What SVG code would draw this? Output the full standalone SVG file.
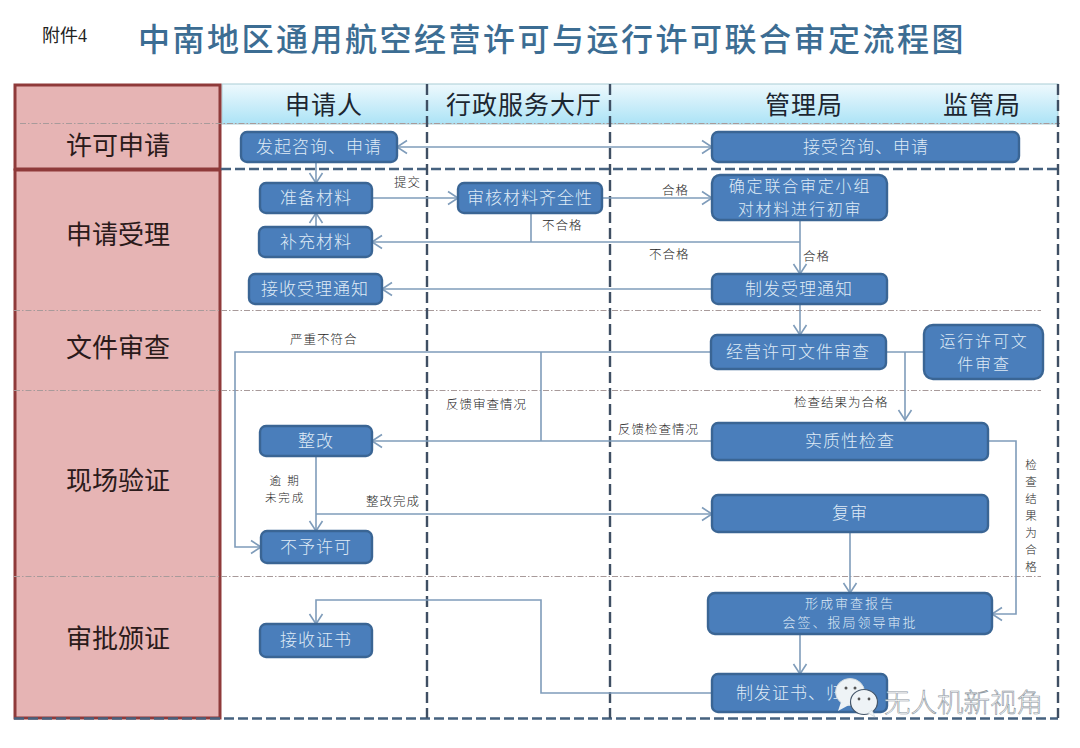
<svg xmlns="http://www.w3.org/2000/svg" width="1080" height="748" viewBox="0 0 1080 748">
<style>
text{font-family:"Noto Sans CJK SC","Noto Sans",sans-serif;dominant-baseline:central;transform:translateY(-1.5px)}
.n rect{fill:#4a7ebb;stroke:#3a6594;stroke-width:2.4}
.n text{fill:#dfeaf6;font-size:17px;text-anchor:middle;letter-spacing:1px;font-weight:300}
.n text.t2{font-size:16px;letter-spacing:1.800px}
.n text.t3{font-size:13px;letter-spacing:2px}
.c path{fill:none;stroke:#7f9cba;stroke-width:1.6}
.a{marker-end:url(#arr)}
.l{fill:#262626;font-size:12.500px;font-weight:300;letter-spacing:1px}
.s{fill:#262626;font-size:11.500px;font-weight:300;letter-spacing:1.800px;text-anchor:middle}
.lane{fill:#2b1a1a;font-size:26px;text-anchor:middle;font-weight:400}
.head{fill:#1c2630;font-size:25px;text-anchor:middle;letter-spacing:1px;font-weight:400}
.row{stroke:#a89a9a;stroke-width:1;stroke-dasharray:6 2 1.500 2;fill:none}
.vd{stroke:#3f4f63;stroke-width:2.400;stroke-dasharray:11 5;fill:none}
.hd{stroke:#46627f;stroke-width:2.600;stroke-dasharray:10 4;fill:none}
</style>
<defs>
<linearGradient id="hg" x1="0" y1="0" x2="0" y2="1"><stop offset="0" stop-color="#eef9fd"/><stop offset="1" stop-color="#ace3f6"/></linearGradient>
<marker id="arr" markerUnits="userSpaceOnUse" markerWidth="14" markerHeight="16" refX="12" refY="8" orient="auto-start-reverse"><path d="M2 1.500L12 8L2 14.500" fill="none" stroke="#7f9cba" stroke-width="1.600"/></marker>
</defs>
<rect width="1080" height="748" fill="#fff"/>
<text x="42" y="37" font-size="18" style="font-family:'Liberation Serif','Noto Sans CJK SC',serif" fill="#222">附件4</text>
<text x="138" y="38" font-size="32" letter-spacing="2.500" font-weight="500" fill="#3c6d93">中南地区通用航空经营许可与运行许可联合审定流程图</text>

<g id="lanes">
<rect x="222" y="84" width="836" height="40" fill="url(#hg)" stroke="#a9cdd6"/>
<rect x="15" y="85" width="205" height="84" fill="#e6b4b4" stroke="#8f3a3a" stroke-width="3"/>
<rect x="15" y="170" width="205" height="548" fill="#e6b4b4" stroke="#8f3a3a" stroke-width="3"/>
<path class="row" d="M20 123.500H1060M14 310.500H1041M14 390.500H1041M14 576.500H1041"/>
<path class="hd" d="M221 169H1058M14 718.500H1058"/>
<path class="vd" d="M427 84V718M610 84V718M1058 84V718"/>
<text class="head" x="324" y="104">申请人</text>
<text class="head" x="524" y="104">行政服务大厅</text>
<text class="head" x="804" y="104">管理局</text>
<text class="head" x="982" y="104">监管局</text>
<text class="lane" x="118" y="145">许可申请</text>
<text class="lane" x="118" y="234">申请受理</text>
<text class="lane" x="118" y="347">文件审查</text>
<text class="lane" x="118" y="480">现场验证</text>
<text class="lane" x="118" y="638">审批颁证</text>
</g>

<g id="connectors" class="c">
<path d="M397 147H712" class="a" style="marker-start:url(#arr)"/>
<path class="a" d="M316 162V183"/>
<path class="a" d="M316 227V213"/>
<path class="a" d="M372 198H458"/>
<path class="a" d="M602 198H712"/>
<path d="M531 213V242"/>
<path class="a" d="M800 242H372"/>
<path class="a" d="M800 220V274"/>
<path class="a" d="M712 289H382"/>
<path class="a" d="M800 304V335"/>
<path class="a" d="M711 352H235V547H261"/>
<path d="M541 352V441"/>
<path class="a" d="M712 441H372"/>
<path d="M886 352H924"/>
<path class="a" d="M905 352V420"/>
<path class="a" d="M316 456V531"/>
<path class="a" d="M316 514H712"/>
<path class="a" d="M988 441H1016V614H992"/>
<path class="a" d="M850 532V593"/>
<path class="a" d="M800 634V674"/>
<path class="a" d="M712 693H541V600H316V624"/>
</g>

<g id="labels">
<text class="l" x="394" y="183">提交</text>
<text class="l" x="662" y="191">合格</text>
<text class="l" x="542" y="226">不合格</text>
<text class="l" x="649" y="255">不合格</text>
<text class="l" x="803" y="257">合格</text>
<text class="l" x="290" y="340">严重不符合</text>
<text class="l" x="446" y="405">反馈审查情况</text>
<text class="l" x="618" y="430">反馈检查情况</text>
<text class="l" x="794" y="403">检查结果为合格</text>
<text class="s" x="285" y="481">逾 期</text>
<text class="s" x="285" y="498">未完成</text>
<text class="l" x="366" y="502">整改完成</text>
<text class="s" x="1032" y="465">检</text>
<text class="s" x="1032" y="482">查</text>
<text class="s" x="1032" y="499">结</text>
<text class="s" x="1032" y="516">果</text>
<text class="s" x="1032" y="533">为</text>
<text class="s" x="1032" y="550">合</text>
<text class="s" x="1032" y="567">格</text>
</g>

<g id="n1" class="n"><rect x="241" y="132" width="156" height="30" rx="6"/><text x="319" y="147">发起咨询、申请</text></g>
<g id="n2" class="n"><rect x="712" y="132" width="307" height="30" rx="6"/><text x="866" y="147">接受咨询、申请</text></g>
<g id="n3" class="n"><rect x="260" y="183" width="112" height="30" rx="6"/><text x="316" y="198">准备材料</text></g>
<g id="n4" class="n"><rect x="458" y="183" width="144" height="30" rx="6"/><text x="530" y="198">审核材料齐全性</text></g>
<g id="n5" class="n"><rect x="712" y="175" width="175" height="45" rx="8"/><text class="t2" x="800" y="186">确定联合审定小组</text><text class="t2" x="800" y="209.500">对材料进行初审</text></g>
<g id="n6" class="n"><rect x="259" y="227" width="113" height="30" rx="6"/><text x="316" y="242">补充材料</text></g>
<g id="n7" class="n"><rect x="249" y="274" width="133" height="30" rx="6"/><text x="315" y="289">接收受理通知</text></g>
<g id="n8" class="n"><rect x="712" y="274" width="175" height="30" rx="6"/><text x="799" y="289">制发受理通知</text></g>
<g id="n9" class="n"><rect x="711" y="335" width="175" height="34" rx="6"/><text x="798" y="352">经营许可文件审查</text></g>
<g id="n10" class="n"><rect x="924" y="325" width="119" height="54" rx="9"/><text class="t2" x="984" y="341">运行许可文</text><text class="t2" x="984" y="364.500">件审查</text></g>
<g id="n11" class="n"><rect x="260" y="426" width="112" height="30" rx="6"/><text x="316" y="441">整改</text></g>
<g id="n12" class="n"><rect x="712" y="423" width="276" height="37" rx="6"/><text x="850" y="441">实质性检查</text></g>
<g id="n13" class="n"><rect x="712" y="495" width="276" height="37" rx="6"/><text x="850" y="513">复审</text></g>
<g id="n14" class="n"><rect x="261" y="531" width="111" height="32" rx="6"/><text x="316" y="547">不予许可</text></g>
<g id="n15" class="n"><rect x="708" y="593" width="284" height="41" rx="7"/><text class="t3" x="850" y="604">形成审查报告</text><text class="t3" x="850" y="623">会签、报局领导审批</text></g>
<g id="n16" class="n"><rect x="260" y="624" width="112" height="33" rx="6"/><text x="316" y="640">接收证书</text></g>
<g id="n17" class="n"><rect x="712" y="674" width="175" height="38" rx="6"/><text x="799" y="693">制发证书、归档</text></g>

<g id="watermark">
<ellipse cx="850" cy="692" rx="14.500" ry="13.500" fill="#eef3f6" stroke="#cfd8de"/>
<path d="M841 702L838 711L849 705Z" fill="#eef3f6"/>
<ellipse cx="864" cy="702" rx="13.500" ry="12.500" fill="#eef3f6" stroke="#44566a" stroke-width="1.200"/>
<path d="M868 713L875 717L872 710Z" fill="#eef3f6" stroke="#c8d3da" stroke-width=".6"/>
<circle cx="846" cy="688" r="1.500" fill="#555"/><circle cx="855" cy="688" r="1.500" fill="#555"/>
<circle cx="859" cy="699" r="1.400" fill="#555"/><circle cx="869" cy="699" r="1.400" fill="#555"/>
<text x="884" y="702" font-size="26.500" fill="#fff" stroke="#8a949c" stroke-width=".6" font-weight="300">无人机新视角</text>
</g>
</svg>
